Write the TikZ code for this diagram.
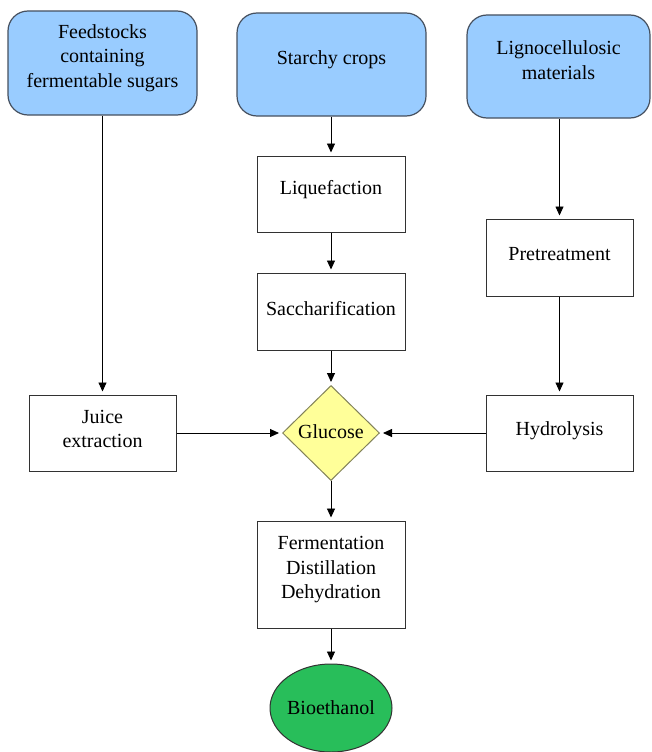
\documentclass[tikz,border=0pt]{standalone}
\usepackage{fontspec}
\newfontfamily\tmsfont{Liberation Serif}
\usetikzlibrary{shapes.geometric,arrows.meta}
\definecolor{srcblue}{RGB}{153,204,255}
\definecolor{srcedge}{RGB}{70,80,95}
\definecolor{gluyel}{RGB}{255,255,153}
\definecolor{gluedge}{RGB}{130,130,90}
\definecolor{bioget}{RGB}{40,190,90}
\definecolor{boxedge}{RGB}{50,50,50}
\tikzset{
  srcbox/.style={draw=srcedge, line width=1.2pt, fill=srcblue, rounded corners=20pt, inner sep=0pt},
  procbox/.style={draw=boxedge, line width=1pt, fill=white, minimum width=148pt, inner sep=0pt, align=center},
  txt/.style={align=center, inner sep=0pt},
  flow/.style={draw=black, line width=0.9pt, -{Triangle[length=9pt,width=8pt]}, shorten >=3pt},
}
\begin{document}
\begin{tikzpicture}[x=1pt,y=-1pt, every node/.style={font=\tmsfont\fontsize{20}{24.5}\selectfont}]
\useasboundingbox (0,0) rectangle (651,752);
% source boxes
\node[srcbox, minimum width=189pt, minimum height=104pt] (feed) at (102.5,63) {};
\node[txt] (feedtxt) at (102.5,58) {Feedstocks\\containing\\fermentable sugars};
\node[srcbox, minimum width=189pt, minimum height=103pt] (starch) at (331.5,64.5) {};
\node[txt] (starchtxt) at (331.5,60) {Starchy crops};
\node[srcbox, minimum width=183pt, minimum height=103pt] (ligno) at (558.5,66.5) {};
\node[txt] (lignotxt) at (558.5,60) {Lignocellulosic\\materials};
% process boxes
\node[procbox, minimum height=76pt] (liq) at (331,194) {};
\node[txt] (liqtxt) at (331,190) {Liquefaction};
\node[procbox, minimum height=77pt] (sac) at (331,311.5) {};
\node[txt] (sactxt) at (331,309) {Saccharification};
\node[procbox, minimum width=147pt, minimum height=77pt] (pre) at (559.5,257.5) {};
\node[txt] (pretxt) at (559.5,254) {Pretreatment};
\node[procbox, minimum width=147pt, minimum height=76pt] (hyd) at (559.5,433) {};
\node[txt] (hydtxt) at (559.5,431) {Hydrolysis};
\node[procbox, minimum width=147pt, minimum height=76pt] (juice) at (102.5,433) {};
\node[txt] (juicetxt) at (102.5,429) {Juice\\extraction};
% glucose
\node[diamond, draw=gluedge, line width=1pt, fill=gluyel, minimum width=97pt, minimum height=95pt, inner sep=0pt] (glu) at (331,433) {};
\node[txt] (glutxt) at (331,432) {Glucose};
% fermentation
\node[procbox, minimum height=107pt] (ferm) at (331,574.5) {};
\node[txt] (fermtxt) at (331,570) {Fermentation\\Distillation\\Dehydration};
% bioethanol
\node[ellipse, draw=boxedge, line width=1pt, fill=bioget, minimum width=122pt, minimum height=88pt, inner sep=0pt] (bio) at (331,708) {};
\node[txt] (biotxt) at (331,708) {Bioethanol};
% connectors
\draw[flow] (feed.south -| juice.north) -- (juice.north);
\draw[flow] (starch.south -| liq.north) -- (liq.north);
\draw[flow] (liq) -- (sac);
\draw[flow] (sac) -- (glu.north);
\draw[flow] (ligno.south -| pre.north) -- (pre.north);
\draw[flow] (pre) -- (hyd);
\draw[flow] (juice.east) -- (glu.west);
\draw[flow] (hyd.west) -- (glu.east);
\draw[flow] (glu.south) -- (ferm.north);
\draw[flow] (ferm) -- (bio);
\end{tikzpicture}
\end{document}
